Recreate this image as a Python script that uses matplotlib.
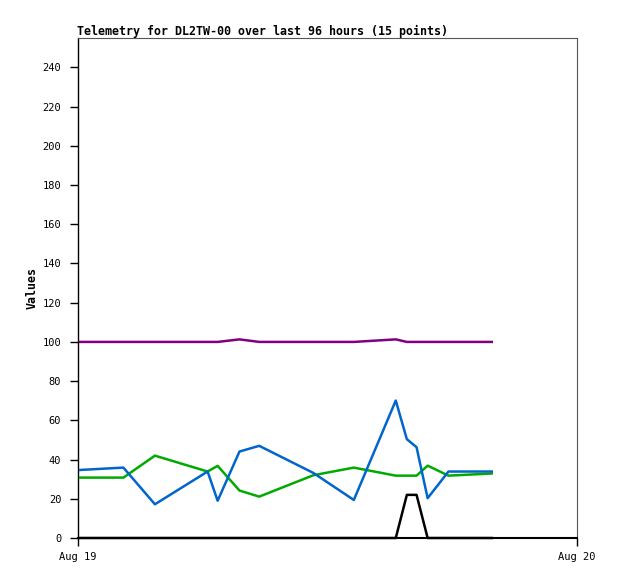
import matplotlib
matplotlib.use("Agg")
import matplotlib.pyplot as plt
import pandas as pd

title = "Telemetry for DL2TW-00 over last 96 hours (15 points)"
ylabel = "Values"

times = ["2024-08-19 00:06", "2024-08-19 02:11", "2024-08-19 03:42", "2024-08-19 06:14",
         "2024-08-19 06:43", "2024-08-19 07:46", "2024-08-19 08:43", "2024-08-19 11:19",
         "2024-08-19 13:16", "2024-08-19 15:17", "2024-08-19 15:49", "2024-08-19 16:17",
         "2024-08-19 16:49", "2024-08-19 17:49", "2024-08-19 19:54"]

purple_vals = [100, 100, 100, 100, 100, 101.3, 100, 100, 100, 101.3, 100, 100, 100, 100, 100]
blue_vals = [34.7, 35.9, 17.2, 33.9, 19.0, 44.1, 47.0, 33.2, 19.4, 70.1, 50.4, 46.3, 20.3, 33.9, 33.9]
green_vals = [30.8, 30.8, 42.0, 33.9, 36.8, 24.2, 21.1, 32.0, 35.9, 31.8, 31.8, 31.8, 36.9, 31.8, 32.9]
black_vals = [0, 0, 0, 0, 0, 0, 0, 0, 0, 0, 22.0, 22.0, 0, 0, 0]

x_start = "2024-08-19 00:00"
x_end = "2024-08-20 00:00"
x_tick_labels = ["Aug 19", "Aug 20"]
y_ticks = list(range(0, 241, 20))

t = pd.to_datetime(times)

fig = plt.figure(figsize=(6.18, 5.79), dpi=100)
ax = fig.add_axes([78/618, 41/579, 499/618, 500/579])

ax.plot(t, black_vals, color="#000000", lw=1.8, zorder=3, clip_on=False)
ax.plot(t, green_vals, color="#00aa00", lw=1.8, zorder=4)
ax.plot(t, blue_vals, color="#0066cc", lw=1.8, zorder=5)
ax.plot(t, purple_vals, color="#800080", lw=1.8, zorder=6)

ax.set_xlim(pd.Timestamp(x_start), pd.Timestamp(x_end))
ax.set_ylim(0, 255)
ax.set_xticks([pd.Timestamp(x_start), pd.Timestamp(x_end)])
ax.set_xticklabels(x_tick_labels)
ax.set_yticks(y_ticks)
ax.set_yticklabels([str(v) for v in y_ticks])

mono = "DejaVu Sans Mono"
for lbl in ax.get_xticklabels() + ax.get_yticklabels():
    lbl.set_fontfamily(mono)
    lbl.set_fontsize(7.5)

ax.tick_params(axis="y", direction="out", length=6, width=1, pad=6, colors="black")
ax.tick_params(axis="x", direction="out", length=6, width=1, pad=4, colors="black")

for s in ["top", "right"]:
    ax.spines[s].set_color("#555555")
    ax.spines[s].set_linewidth(0.8)
ax.spines["left"].set_color("black")
ax.spines["left"].set_linewidth(1.0)
ax.spines["bottom"].set_color("black")
ax.spines["bottom"].set_linewidth(1.5)

fig.text(77/618, 1 - 31/579, title, fontfamily=mono, fontweight="bold",
         fontsize=8.4, ha="left", va="center")
fig.text(32/618, 1 - 288/579, ylabel, fontfamily=mono, fontweight="bold",
         fontsize=8.4, ha="center", va="center", rotation=90)

fig.savefig("out.png", dpi=100)
